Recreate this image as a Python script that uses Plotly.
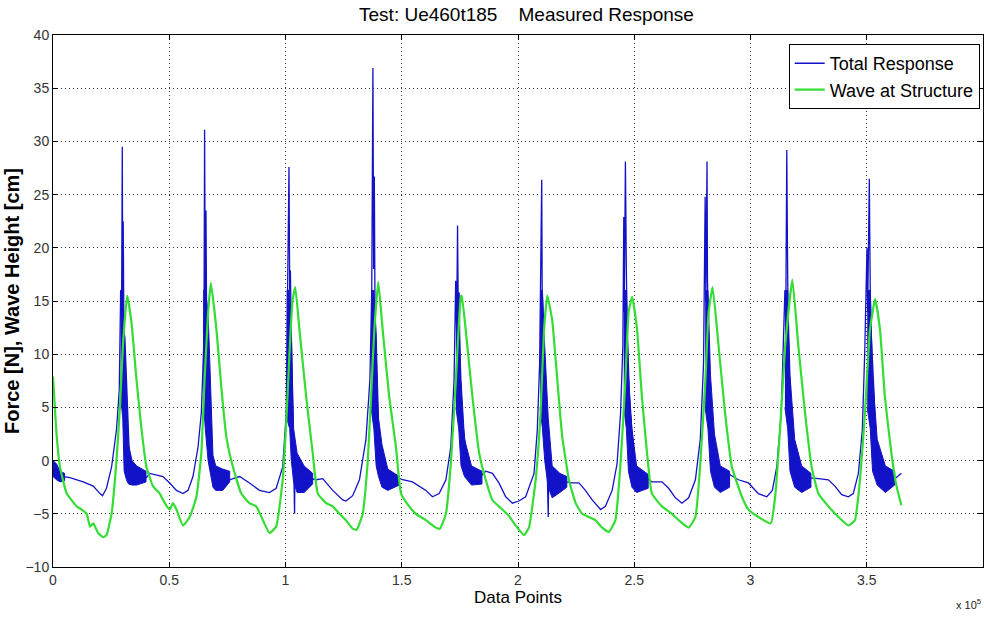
import plotly.graph_objects as go

# ---------------- data (x in units of 1e5 data points) ----------------
blue_x = [0.000, 0.009, 0.017, 0.030, 0.044, 0.073, 0.130, 0.173, 0.202, 0.213, 0.230, 0.252, 0.273, 0.285,
          0.291, 0.295, 0.298, 0.300, 0.302, 0.305, 0.309, 0.316, 0.323, 0.330, 0.359, 0.402, 0.416, 0.473,
          0.502, 0.531, 0.559, 0.581, 0.602, 0.624, 0.638, 0.648, 0.650, 0.652, 0.655, 0.658, 0.661, 0.667,
          0.674, 0.688, 0.760, 0.774, 0.803, 0.845, 0.888, 0.931, 0.960, 0.988, 1.003, 1.009, 1.015, 1.018,
          1.021, 1.025, 1.030, 1.039, 1.041, 1.060, 1.132, 1.160, 1.203, 1.246, 1.260, 1.289, 1.318, 1.346,
          1.363, 1.371, 1.376, 1.379, 1.382, 1.385, 1.390, 1.403, 1.425, 1.504, 1.546, 1.575, 1.604, 1.632,
          1.661, 1.690, 1.711, 1.725, 1.732, 1.736, 1.740, 1.743, 1.747, 1.751, 1.760, 1.781, 1.803, 1.833,
          1.861, 1.890, 1.918, 1.947, 1.976, 2.004, 2.033, 2.069, 2.083, 2.093, 2.097, 2.102, 2.104, 2.112,
          2.120, 2.130, 2.133, 2.146, 2.233, 2.262, 2.290, 2.319, 2.355, 2.376, 2.405, 2.426, 2.441, 2.451,
          2.455, 2.457, 2.462, 2.466, 2.470, 2.481, 2.505, 2.576, 2.619, 2.648, 2.677, 2.705, 2.734, 2.763,
          2.784, 2.798, 2.805, 2.808, 2.813, 2.815, 2.820, 2.828, 2.848, 2.948, 2.991, 3.034, 3.070, 3.094,
          3.113, 3.132, 3.142, 3.148, 3.152, 3.156, 3.159, 3.162, 3.172, 3.197, 3.292, 3.335, 3.363, 3.392,
          3.421, 3.442, 3.464, 3.481, 3.492, 3.501, 3.504, 3.511, 3.515, 3.519, 3.532, 3.541, 3.621, 3.649]
blue_y = [-0.3, -1.2, -0.6, -1.5, -1.5, -1.6, -2.0, -2.4, -3.1, -3.3, -2.6, -0.6, 2.9, 6.6,
          16.0, 14.0, 29.5, 15.0, 22.5, 12.0, 11.6, 7.6, 3.0, -0.5, -1.5, -1.6, -1.2, -1.5,
          -2.1, -2.8, -3.1, -2.8, -1.5, 1.3, 4.5, 10.7, 16.0, 31.1, 15.0, 23.5, 12.0, 8.0,
          3.0, -0.8, -1.8, -1.7, -1.5, -2.1, -2.8, -3.0, -2.6, -0.6, 4.4, 16.0, 27.6, 16.0,
          17.9, 12.0, 5.0, -5.0, 0.0, -1.5, -1.8, -1.7, -2.8, -3.7, -3.8, -3.3, -1.8, 2.0,
          7.6, 16.0, 36.9, 18.0, 26.7, 14.0, 8.0, 2.0, -1.0, -1.8, -2.0, -2.4, -2.8, -3.4,
          -3.1, -1.8, 1.3, 7.6, 16.9, 12.0, 22.1, 14.0, 15.8, 8.0, 4.0, 0.0, -1.5, -1.6,
          -1.0, -1.2, -2.1, -3.4, -4.0, -3.8, -3.4, -1.2, 2.9, 9.1, 20.1, 26.4, 16.0, 10.7,
          5.0, -5.3, 0.0, -1.8, -2.1, -2.1, -2.8, -3.7, -4.6, -4.3, -2.8, -0.3, 4.4, 10.7,
          22.9, 14.0, 28.1, 18.0, 12.0, 5.0, -1.0, -2.0, -2.0, -2.6, -3.5, -4.0, -3.5, -1.8,
          2.0, 9.1, 24.8, 15.0, 28.1, 17.0, 10.0, 4.0, -0.5, -1.8, -2.1, -3.1, -3.4, -2.8,
          -0.6, 4.4, 10.7, 16.0, 14.0, 29.2, 20.0, 12.0, 5.0, -1.5, -1.7, -1.8, -2.4, -3.2,
          -3.4, -3.1, -1.2, 2.9, 10.7, 20.0, 14.0, 26.5, 16.0, 12.0, 6.0, -0.5, -1.7, -1.2]

# noisy parts of the force signal: upper / lower envelopes
band_x = [
    [0.000, 0.015, 0.030, 0.050],
    [0.291, 0.300, 0.306, 0.316, 0.325, 0.340, 0.360, 0.400],
    [0.646, 0.655, 0.667, 0.680, 0.688, 0.700, 0.730, 0.760],
    [1.005, 1.018, 1.025, 1.035, 1.050, 1.080, 1.117],
    [1.368, 1.380, 1.390, 1.400, 1.415, 1.440, 1.490],
    [1.733, 1.745, 1.755, 1.770, 1.800, 1.845],
    [2.095, 2.105, 2.115, 2.130, 2.147, 2.180, 2.210],
    [2.455, 2.466, 2.475, 2.490, 2.510, 2.560],
    [2.805, 2.817, 2.828, 2.845, 2.870, 2.910],
    [3.148, 3.160, 3.170, 3.190, 3.220, 3.260],
    [3.502, 3.515, 3.525, 3.545, 3.580, 3.620],
]
band_hi = [
    [0.0, -0.3, -1.0, -1.2],
    [16, 16, 12, 6, 1.5, 0.0, -0.5, -1.0],
    [16, 16, 14, 6, 0.5, -0.5, -0.8, -1.0],
    [16, 16, 12, 3, 0.7, -0.5, -1.2],
    [16, 16, 12, 4, 1.5, -0.8, -1.5],
    [16, 14, 7.6, 2, -0.5, -1.0],
    [16, 16, 10.7, 4, -0.5, -1.2, -1.5],
    [16, 16, 8, 3, -0.5, -1.3],
    [16, 16, 8, 2.5, -0.5, -1.0],
    [16, 16, 8, 2, -0.5, -1.2],
    [16, 16, 8, 2, -0.5, -1.0],
]
band_lo = [
    [-1.5, -1.8, -2.0, -1.9],
    [6, 4, -1, -1.8, -2.2, -2.3, -2.3, -2.0],
    [6, 3, 0, -1.5, -2.5, -2.8, -2.8, -2.0],
    [4, 3, 0, -2, -3.0, -3.0, -2.2],
    [5, 3, -0.5, -1.5, -2.5, -2.8, -2.3],
    [5, 3, -0.5, -1.5, -2.3, -2.2],
    [5, 3, 0, -2.5, -3.5, -3.0, -2.5],
    [5, 3, -1, -2.5, -3.0, -2.6],
    [5, 3, -1, -2.5, -3.0, -2.5],
    [5, 3, -1, -2.5, -3.0, -2.5],
    [5, 3, -1, -2.3, -3.0, -2.3],
]

green_x = [0.000, 0.016, 0.030, 0.059, 0.102, 0.123, 0.145, 0.159, 0.173, 0.194, 0.216, 0.230, 0.252, 0.273,
           0.288, 0.302, 0.319, 0.338, 0.359, 0.381, 0.402, 0.430, 0.459, 0.481, 0.502, 0.516, 0.531, 0.559,
           0.588, 0.617, 0.638, 0.652, 0.667, 0.679, 0.703, 0.724, 0.745, 0.774, 0.810, 0.845, 0.874, 0.903,
           0.931, 0.960, 0.988, 1.003, 1.017, 1.030, 1.042, 1.060, 1.089, 1.117, 1.139, 1.175, 1.203, 1.232,
           1.260, 1.289, 1.306, 1.332, 1.353, 1.368, 1.382, 1.399, 1.418, 1.446, 1.475, 1.497, 1.532, 1.561,
           1.604, 1.647, 1.664, 1.690, 1.711, 1.733, 1.754, 1.758, 1.775, 1.804, 1.833, 1.861, 1.890, 1.918,
           1.961, 1.990, 2.026, 2.047, 2.076, 2.097, 2.112, 2.126, 2.147, 2.169, 2.190, 2.219, 2.248, 2.276,
           2.305, 2.333, 2.362, 2.391, 2.419, 2.441, 2.462, 2.476, 2.491, 2.512, 2.533, 2.555, 2.576, 2.619,
           2.662, 2.691, 2.734, 2.763, 2.784, 2.806, 2.820, 2.837, 2.863, 2.891, 2.920, 2.963, 2.991, 3.034,
           3.087, 3.106, 3.127, 3.149, 3.180, 3.206, 3.235, 3.263, 3.292, 3.335, 3.378, 3.421, 3.449, 3.471,
           3.492, 3.514, 3.536, 3.557, 3.578, 3.606, 3.628, 3.649]
green_y = [7.9, 2.3, -0.6, -3.1, -4.3, -4.6, -5.0, -6.2, -5.9, -6.8, -7.2, -7.0, -5.0, 0.0,
           5.1, 11.3, 15.5, 12.9, 7.6, 2.9, -0.6, -2.4, -3.1, -4.0, -4.6, -4.0, -4.6, -6.1,
           -5.3, -3.4, 0.7, 7.6, 13.9, 16.7, 12.3, 6.9, 2.3, -0.6, -3.1, -4.0, -4.3, -5.6,
           -6.8, -6.2, -1.8, 3.5, 10.0, 15.0, 16.3, 12.3, 6.0, 0.7, -3.1, -4.0, -4.3, -5.0,
           -5.6, -6.4, -6.5, -5.0, -0.3, 6.0, 12.3, 16.8, 12.3, 6.0, 1.3, -3.1, -4.3, -5.0,
           -5.6, -6.3, -6.4, -5.0, -0.3, 7.6, 15.4, 15.5, 12.3, 6.0, 0.7, -1.8, -3.7, -4.3,
           -5.2, -6.1, -7.0, -6.3, -1.8, 4.5, 12.3, 15.5, 13.2, 7.6, 2.3, -1.8, -4.0, -5.0,
           -5.3, -5.6, -6.3, -6.7, -5.6, -0.3, 7.6, 14.0, 15.4, 12.3, 6.0, 0.7, -3.1, -4.3,
           -5.0, -5.6, -6.3, -5.3, -0.3, 7.6, 14.0, 16.3, 10.7, 4.4, -0.6, -3.4, -4.6, -5.3,
           -5.9, -3.4, 2.9, 10.7, 17.0, 10.7, 4.4, -0.6, -3.1, -4.3, -5.3, -6.1, -5.6, -1.8,
           4.4, 12.3, 15.2, 12.3, 6.0, 0.7, -2.4, -4.2]

x_tick_vals = [0, 0.5, 1, 1.5, 2, 2.5, 3, 3.5, 4]
x_tick_text = ["0", "0.5", "1", "1.5", "2", "2.5", "3", "3.5", "4"]
y_tick_vals = [-10, -5, 0, 5, 10, 15, 20, 25, 30, 35, 40]

SCALE = 1e5
BLUE = "#1212c8"
GREEN = "#33dd33"
FONT = "Liberation Sans Narrow, Arial Narrow, Liberation Sans, Arial, sans-serif"

fig = go.Figure()

for bx, hi, lo in zip(band_x, band_hi, band_lo):
    px = [v * SCALE for v in bx] + [v * SCALE for v in bx[::-1]]
    py = list(hi) + list(lo[::-1])
    fig.add_trace(go.Scatter(x=px, y=py, mode="lines", fill="toself", fillcolor=BLUE,
                             line=dict(color=BLUE, width=1), showlegend=False, hoverinfo="skip"))

fig.add_trace(go.Scatter(x=[v * SCALE for v in blue_x], y=blue_y, mode="lines",
                         name="Total Response", line=dict(color=BLUE, width=1.3)))
fig.add_trace(go.Scatter(x=[v * SCALE for v in green_x], y=green_y, mode="lines",
                         name="Wave at Structure",
                         line=dict(color=GREEN, width=2.2, shape="spline", smoothing=0.4)))

axis_common = dict(showline=True, linecolor="black", linewidth=1, mirror="allticks",
                   ticks="inside", ticklen=5, tickcolor="black", automargin=False,
                   showgrid=True, gridcolor="#333333", griddash="1px,3px", gridwidth=1,
                   zeroline=False, tickfont=dict(family=FONT, size=14, color="#333333"))

fig.update_xaxes(range=[0, 4 * SCALE], tickvals=[v * SCALE for v in x_tick_vals], ticktext=x_tick_text,
                 title=dict(text="Data Points", font=dict(family=FONT, size=17, color="black"), standoff=4),
                 **axis_common)
fig.update_yaxes(range=[-10, 40], tickvals=y_tick_vals,
                 title=dict(text="<b>Force [N], Wave Height [cm]</b>",
                            font=dict(family="Liberation Sans, Arial, sans-serif", size=20, color="black"),
                            standoff=0),
                 **axis_common)

fig.update_layout(
    width=984, height=617,
    margin=dict(l=53, r=1, t=35, b=50, autoexpand=False),
    paper_bgcolor="white", plot_bgcolor="white",
    title=dict(text="Test: Ue460t185\u00a0\u00a0\u00a0\u00a0Measured Response", x=0.535, xanchor="center",
               y=0.976, yanchor="middle", font=dict(family=FONT, size=19, color="black")),
    legend=dict(x=0.9965, y=0.983, xanchor="right", yanchor="top", bgcolor="white",
                bordercolor="black", borderwidth=1, font=dict(family=FONT, size=18, color="black"),
                tracegroupgap=0),
    showlegend=True,
    annotations=[dict(text="x 10<sup>5</sup>", xref="paper", yref="paper", x=1.0, y=-0.07,
                      xanchor="right", yanchor="middle", showarrow=False,
                      font=dict(family=FONT, size=11, color="#222222"))],
)

fig.write_html("out.html", config={"displayModeBar": False},
               post_script="document.body.style.margin='0';document.body.style.overflow='hidden';")
